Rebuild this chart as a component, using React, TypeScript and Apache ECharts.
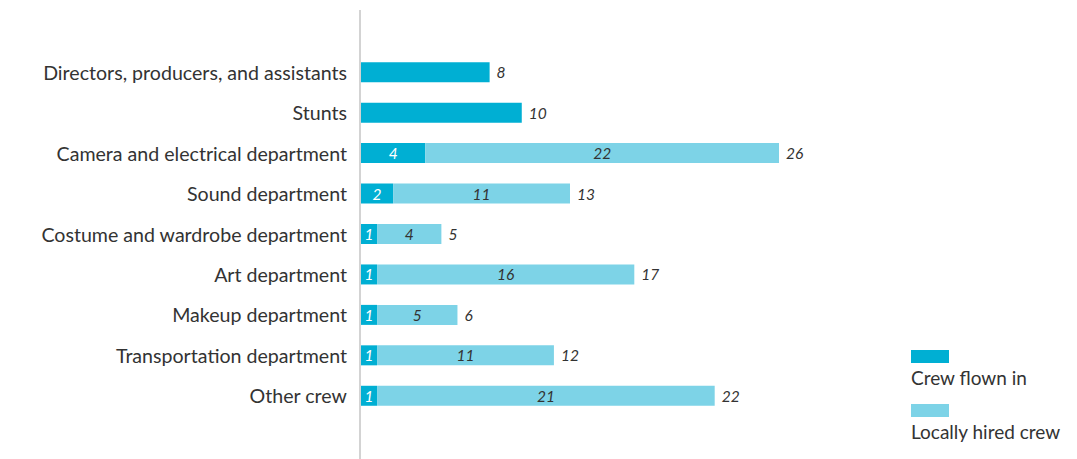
import React, { useEffect, useRef } from "react";
import * as echarts from "echarts";

const categories = [
  "Directors, producers, and assistants",
  "Stunts",
  "Camera and electrical department",
  "Sound department",
  "Costume and wardrobe department",
  "Art department",
  "Makeup department",
  "Transportation department",
  "Other crew",
];
const flownIn = [8, 10, 4, 2, 1, 1, 1, 1, 1];
const locallyHired = [0, 0, 22, 11, 4, 16, 5, 11, 21];
const seriesNames = ["Crew flown in", "Locally hired crew"];

const DARK = "#00AFD3";
const LIGHT = "#7DD3E7";
const TEXT = "#333333";
const FONT = "Lato, 'Open Sans', sans-serif";

export default function App() {
  const ref = useRef<HTMLDivElement>(null);
  useEffect(() => {
    if (!ref.current) return;
    const chart = echarts.init(ref.current, undefined, { renderer: "svg" });
    const totals = flownIn.map((v, i) => v + locallyHired[i]);
    const cats = [...categories].reverse();
    const rev = (a: number[]) => [...a].reverse();
    const revLocal = rev(locallyHired);
    const revTotals = rev(totals);
    const xMax = 30;
    const unit = (779 - 361) / 26;
    const gridLeft = 361;
    const gridRight = 1077 - gridLeft - unit * xMax;
    chart.setOption({
      animation: false,
      textStyle: { fontFamily: FONT },
      grid: { left: gridLeft, right: gridRight, top: 52, bottom: 459 - 416 },
      xAxis: {
        type: "value",
        min: 0,
        max: xMax,
        show: false,
      },
      yAxis: {
        type: "category",
        data: cats,
        axisLine: { show: false },
        axisTick: { show: false },
        axisLabel: { color: TEXT, fontSize: 19.6, fontFamily: FONT, margin: 14 },
      },
      series: [
        {
          name: seriesNames[0],
          type: "bar",
          stack: "s",
          barWidth: 20,
          data: rev(flownIn),
          itemStyle: { color: DARK },
          label: {
            show: true,
            position: "inside",
            color: "#ffffff",
            fontStyle: "italic",
            fontSize: 15.5,
            fontFamily: FONT,
            formatter: (p: any) => (revLocal[p.dataIndex] > 0 ? String(p.value) : ""),
          },
        },
        {
          name: seriesNames[1],
          type: "bar",
          stack: "s",
          barWidth: 20,
          data: revLocal,
          itemStyle: { color: LIGHT },
          label: {
            show: true,
            position: "inside",
            color: TEXT,
            fontStyle: "italic",
            fontSize: 15.5,
            fontFamily: FONT,
            formatter: (p: any) => (p.value > 0 ? String(p.value) : ""),
          },
        },
        {
          name: "total",
          type: "bar",
          stack: "s",
          barWidth: 20,
          data: revTotals.map(() => 0),
          itemStyle: { color: "transparent" },
          label: {
            show: true,
            position: "right",
            distance: 7,
            color: TEXT,
            fontStyle: "italic",
            fontSize: 15.5,
            fontFamily: FONT,
            formatter: (p: any) => String(revTotals[p.dataIndex]),
          },
        },
      ],
      graphic: [
        {
          type: "line",
          shape: { x1: 360, y1: 10, x2: 360, y2: 459 },
          style: { stroke: "#c4c4c4", lineWidth: 1.5 },
        },
        { type: "rect", shape: { x: 911, y: 350, width: 38, height: 13 }, style: { fill: DARK } },
        {
          type: "text",
          x: 911,
          y: 377,
          style: { text: seriesNames[0], fill: TEXT, font: `19px ${FONT}`, textVerticalAlign: "middle", verticalAlign: "middle" },
        },
        { type: "rect", shape: { x: 911, y: 404, width: 38, height: 13 }, style: { fill: LIGHT } },
        {
          type: "text",
          x: 911,
          y: 431,
          style: { text: seriesNames[1], fill: TEXT, font: `19px ${FONT}`, textVerticalAlign: "middle", verticalAlign: "middle" },
        },
      ],
    });
    return () => chart.dispose();
  }, []);
  return (
    <div
      ref={ref}
      style={{ position: "fixed", left: 0, top: 0, width: 1077, height: 459, background: "#fff" }}
    />
  );
}
